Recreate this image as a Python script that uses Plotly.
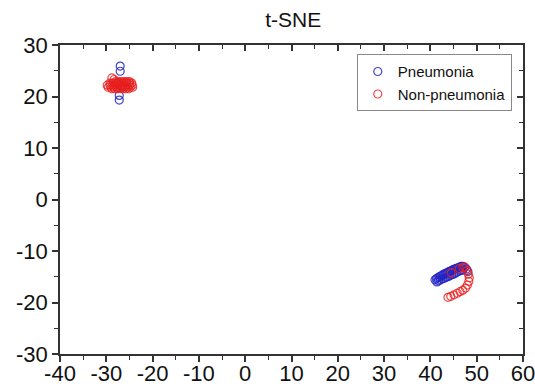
import plotly.graph_objects as go

# Pneumonia points (t-SNE coordinates)
pneu_x = [-27.0, -27.0, -27.2, -27.2, -27.6, -26.5,
          41.0, 41.3, 41.6, 41.9, 42.2, 42.5, 42.8, 43.1, 43.4, 43.7, 44.0, 44.3,
          44.6, 44.9, 45.2, 45.5, 45.8, 46.1, 46.4, 46.7, 47.0, 47.4, 47.8,
          41.4, 41.8, 42.2, 42.6, 43.0, 43.4, 43.8, 44.2, 44.6, 45.0, 45.4, 45.8,
          46.2, 46.6, 47.0, 48.1]
pneu_y = [25.9, 24.9, 20.2, 19.3, 22.5, 22.0,
          -15.6, -15.4, -15.2, -15.0, -14.9, -14.7, -14.6, -14.4, -14.3, -14.2, -14.0, -13.9,
          -13.8, -13.6, -13.5, -13.4, -13.3, -13.2, -13.1, -13.0, -13.0, -13.2, -13.5,
          -16.0, -15.8, -15.6, -15.4, -15.3, -15.1, -15.0, -14.8, -14.6, -14.5, -14.3, -14.1,
          -13.9, -13.8, -13.7, -14.0]

# Non-pneumonia points
non_x = [-28.0, -27.4, -26.8, -26.2, -25.6, -25.0,
         -29.2, -28.6, -28.0, -27.4, -26.8, -26.2, -25.6, -25.0, -24.5,
         -29.8, -29.2, -28.6, -28.0, -27.4, -26.8, -26.2, -25.6, -25.0, -24.4,
         -29.6, -29.0, -28.4, -27.8, -27.2, -26.6, -26.0, -25.4, -24.8, -24.3,
         -28.8, -28.2, -27.6, -27.0, -26.4, -25.8, -25.2,
         -28.8, -28.3,
         47.4, 47.9, 48.2, 48.4, 48.3, 48.0, 47.6, 47.0, 46.4, 45.8, 45.1, 44.4, 43.8,
         44.5, 46.2, 47.0]
non_y = [22.9, 22.9, 22.9, 22.9, 22.9, 22.9,
         22.6, 22.6, 22.6, 22.6, 22.6, 22.6, 22.6, 22.6, 22.6,
         22.2, 22.2, 22.2, 22.2, 22.2, 22.2, 22.2, 22.2, 22.2, 22.2,
         21.8, 21.8, 21.8, 21.8, 21.8, 21.8, 21.8, 21.8, 21.8, 21.8,
         21.5, 21.5, 21.5, 21.5, 21.5, 21.5, 21.5,
         23.6, 23.3,
         -13.1, -13.8, -14.5, -15.2, -15.9, -16.6, -17.2, -17.6, -17.9, -18.2, -18.5, -18.8, -19.0,
         -14.2, -13.4, -13.2]

x_range = [-40, 60]
y_range = [-30, 30]
x_ticks = [-40, -30, -20, -10, 0, 10, 20, 30, 40, 50, 60]
x_tick_labels = ["-40", "-30", "-20", "-10", "0", "10", "20", "30", "40", "50", "60"]
y_ticks = [-30, -20, -10, 0, 10, 20, 30]
y_tick_labels = ["-30", "-20", "-10", "0", "10", "20", "30"]

FONT = "Liberation Sans, Arial, sans-serif"
AX = "#333333"
TXT = "#111111"

fig = go.Figure()
fig.add_trace(go.Scatter(
    x=pneu_x, y=pneu_y, mode="markers", name="Pneumonia",
    marker=dict(symbol="circle-open", size=8, color="rgba(35,35,195,0.85)", line=dict(width=1.2)),
))
fig.add_trace(go.Scatter(
    x=non_x, y=non_y, mode="markers", name="Non-pneumonia",
    xaxis="x2", yaxis="y2",
    marker=dict(symbol="circle-open", size=8, color="rgba(232,30,30,0.8)", line=dict(width=1.2)),
))

common = dict(showgrid=False, zeroline=False, showline=True, linecolor=AX, linewidth=1.5,
              tickcolor=AX, tickwidth=1.5, ticklen=6, automargin=False)
minor_out = dict(ticks="outside", dtick=5, ticklen=4, tickcolor=AX, tickwidth=1.2)
minor_in = dict(ticks="inside", dtick=5, ticklen=4, tickcolor=AX, tickwidth=1.2)

fig.update_layout(
    width=535, height=387,
    margin=dict(l=60, r=12, t=45, b=33, autoexpand=False),
    paper_bgcolor="white", plot_bgcolor="white",
    font=dict(family=FONT, color=TXT),
    title=dict(text="t-SNE", x=0.548, xanchor="center", y=0.948, yanchor="middle",
               font=dict(size=21, family=FONT, color=TXT)),
    xaxis=dict(range=x_range, tickvals=x_ticks, ticktext=x_tick_labels, ticks="outside",
               tickfont=dict(size=22, family=FONT, color=TXT),
               ticklabeloverflow="allow", ticklabelstandoff=-7,
               minor=minor_out, **common),
    yaxis=dict(range=y_range, tickvals=y_ticks, ticktext=y_tick_labels, ticks="outside",
               tickfont=dict(size=22, family=FONT, color=TXT),
               ticklabeloverflow="allow",
               minor=minor_out, **common),
    xaxis2=dict(range=x_range, matches="x", overlaying="x", side="top", anchor="y2",
                tickvals=x_ticks, ticks="inside", showticklabels=False,
                minor=minor_in, **common),
    yaxis2=dict(range=y_range, matches="y", overlaying="y", side="right", anchor="x2",
                tickvals=y_ticks, ticks="inside", showticklabels=False,
                minor=minor_in, **common),
    legend=dict(x=0.641, y=0.97, xanchor="left", yanchor="top",
                bordercolor="#888888", borderwidth=1, bgcolor="white",
                font=dict(size=15, family=FONT, color=TXT),
                tracegroupgap=0, itemwidth=30),
    showlegend=True,
)

fig.write_html("out.html", config={"displayModeBar": False},
               post_script="document.body.style.margin='0';document.body.style.overflow='hidden';")
